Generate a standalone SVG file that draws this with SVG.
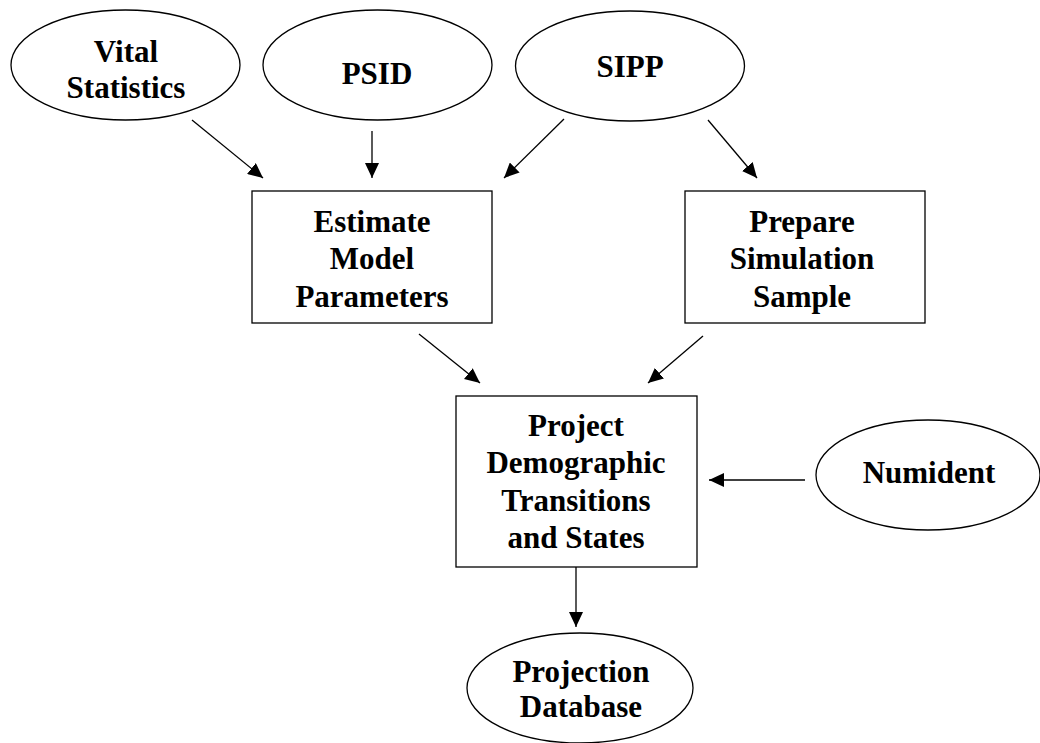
<svg xmlns="http://www.w3.org/2000/svg" width="1040" height="743" viewBox="0 0 1040 743">
<defs>
<marker id="ah" markerUnits="userSpaceOnUse" markerWidth="16" markerHeight="14" refX="15" refY="7" orient="auto">
<path d="M0,0 L15,7 L0,14 Z" fill="#000"/>
</marker>
<style>
.n{fill:#fff;stroke:#000;stroke-width:1.3}
.t{font-family:"Liberation Serif","Times New Roman",serif;font-weight:bold;font-size:31px;fill:#000;text-anchor:middle}
.c{stroke:#000;stroke-width:1.3;fill:none;marker-end:url(#ah)}
</style>
</defs>
<rect width="1040" height="743" fill="#fff"/>
<g id="vital">
<ellipse class="n" cx="125.5" cy="65" rx="114.5" ry="55"/>
<text class="t" x="126" y="62">Vital</text>
<text class="t" x="126" y="98">Statistics</text>
</g>
<g id="psid">
<ellipse class="n" cx="377.5" cy="65" rx="114.5" ry="55"/>
<text class="t" x="377" y="84">PSID</text>
</g>
<g id="sipp">
<ellipse class="n" cx="630" cy="66" rx="114.5" ry="55"/>
<text class="t" x="630" y="77">SIPP</text>
</g>
<g id="estimate">
<rect class="n" x="252" y="191" width="240" height="132"/>
<text class="t" x="372" y="232">Estimate</text>
<text class="t" x="372" y="269">Model</text>
<text class="t" x="372" y="307">Parameters</text>
</g>
<g id="prepare">
<rect class="n" x="685" y="191" width="240" height="132"/>
<text class="t" x="802" y="232">Prepare</text>
<text class="t" x="802" y="269">Simulation</text>
<text class="t" x="802" y="307">Sample</text>
</g>
<g id="project">
<rect class="n" x="456" y="396" width="241" height="171"/>
<text class="t" x="576" y="436">Project</text>
<text class="t" x="576" y="473">Demographic</text>
<text class="t" x="576" y="511">Transitions</text>
<text class="t" x="576" y="548">and States</text>
</g>
<g id="numident">
<ellipse class="n" cx="928" cy="475" rx="112" ry="55"/>
<text class="t" x="929" y="483">Numident</text>
</g>
<g id="projection">
<ellipse class="n" cx="580" cy="688" rx="113" ry="55"/>
<text class="t" x="581" y="682">Projection</text>
<text class="t" x="581" y="717">Database</text>
</g>
<g id="connectors">
<line class="c" x1="192" y1="120" x2="263" y2="178"/>
<line class="c" x1="372" y1="131" x2="372" y2="178"/>
<line class="c" x1="564" y1="119" x2="504" y2="178"/>
<line class="c" x1="708" y1="120" x2="757" y2="178"/>
<line class="c" x1="419" y1="334" x2="480" y2="383"/>
<line class="c" x1="703" y1="336" x2="648" y2="383"/>
<line class="c" x1="805" y1="480" x2="709" y2="480"/>
<line class="c" x1="576" y1="567" x2="576" y2="627"/>
</g>
</svg>
